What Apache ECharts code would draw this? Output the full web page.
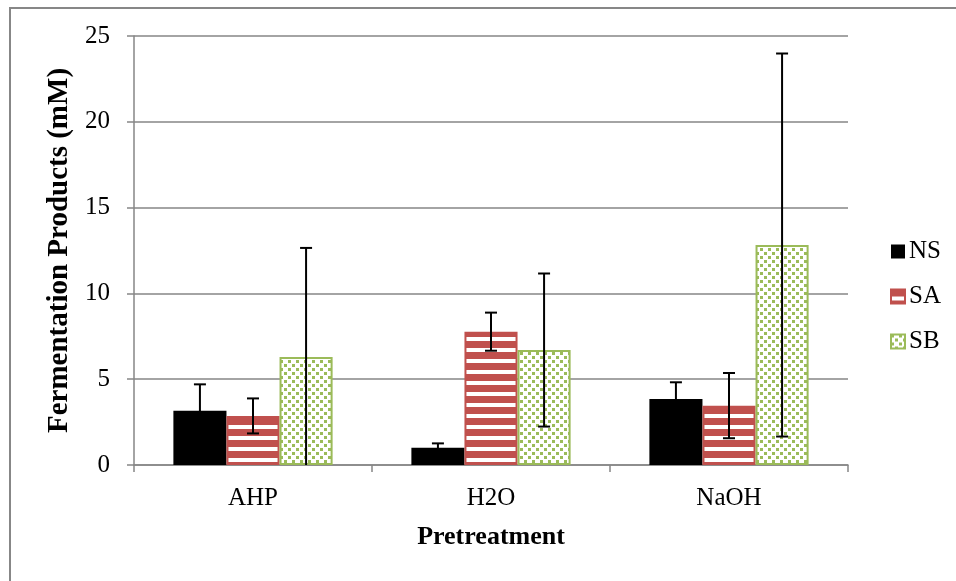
<!DOCTYPE html>
<html><head><meta charset="utf-8">
<script src="https://cdn.jsdelivr.net/npm/echarts@6/dist/echarts.min.js"></script>
<style>html,body{margin:0;padding:0;background:#fff}#c{width:956px;height:581px}</style>
</head><body><div id="c"></div>
<script>
const categories = ['AHP', 'H2O', 'NaOH'];
const seriesNames = ['NS', 'SA', 'SB'];
const nsValues = [3.16, 1.01, 3.85];
const saValues = [2.86, 7.77, 3.46];
const sbValues = [6.29, 6.70, 12.82];
const nsErrors = [1.54, 0.25, 0.97];
const saErrors = [1.02, 1.11, 1.90];
const sbErrors = [6.36, 4.46, 11.16];
const yTicks = [0, 5, 10, 15, 20, 25];

const FONT = '"Liberation Serif", "Times New Roman", serif';

function stripePattern() {
  const c = document.createElement('canvas');
  c.width = 11; c.height = 11;
  const g = c.getContext('2d');
  g.fillStyle = '#ffffff'; g.fillRect(0, 0, 11, 11);
  g.fillStyle = '#C0504D'; g.fillRect(0, 0, 11, 7);
  return c;
}
function dotPattern() {
  const c = document.createElement('canvas');
  c.width = 8; c.height = 8;
  const g = c.getContext('2d');
  g.fillStyle = '#ffffff'; g.fillRect(0, 0, 8, 8);
  g.fillStyle = '#9BBB59';
  g.fillRect(0, 0, 3, 3);
  g.fillRect(4, 4, 3, 3);
  return c;
}

const BW = 0.223;
function errSeries(vals, errs, k) {
  return {
    type: 'custom',
    name: seriesNames[k] + ' err',
    z: 5,
    data: vals.map((v, i) => [i, v, errs[i], k]),
    renderItem: function (params, api) {
      const cat = api.value(0), v = api.value(1), e = api.value(2), kk = api.value(3);
      const band = api.size([1, 0])[0];
      const x = api.coord([cat, 0])[0] + (kk - 1) * band * BW;
      const hiV = v + e;
      const loV = Math.max(0, v - e);
      const hi = api.coord([cat, hiV])[1];
      const lo = api.coord([cat, loV])[1];
      const cap = 6;
      const st = { stroke: '#000', lineWidth: 2 };
      const ch = [
        { type: 'line', shape: { x1: x, y1: hi, x2: x, y2: lo }, style: st },
        { type: 'line', shape: { x1: x - cap, y1: hi, x2: x + cap, y2: hi }, style: st }
      ];
      if (v - e > 0) ch.push({ type: 'line', shape: { x1: x - cap, y1: lo, x2: x + cap, y2: lo }, style: st });
      return { type: 'group', children: ch };
    }
  };
}

const chart = echarts.init(document.getElementById('c'), null, { renderer: 'canvas' });
chart.setOption({
  animation: false,
  backgroundColor: '#fff',
  textStyle: { fontFamily: FONT },
  grid: { left: 134, right: 108, top: 36, bottom: 116, containLabel: false },
  legend: {
    orient: 'vertical',
    left: 885, top: 234,
    itemWidth: 14, itemHeight: 14, itemGap: 20,
    icon: 'rect',
    data: seriesNames,
    textStyle: { fontFamily: FONT, fontSize: 25, color: '#000', padding: [0, 0, 0, -1] }
  },
  xAxis: {
    type: 'category',
    data: categories,
    name: 'Pretreatment',
    nameLocation: 'middle',
    nameGap: 59,
    nameTextStyle: { fontFamily: FONT, fontSize: 26, fontWeight: 'bold', color: '#000' },
    axisLine: { lineStyle: { color: '#868686', width: 1.5 } },
    axisTick: { show: true, length: 7, lineStyle: { color: '#868686', width: 1.5 } },
    axisLabel: { fontFamily: FONT, fontSize: 25, color: '#000', margin: 21 },
    splitLine: { show: false }
  },
  yAxis: {
    type: 'value',
    min: yTicks[0], max: yTicks[yTicks.length - 1], interval: yTicks[1] - yTicks[0],
    name: 'Fermentation Products (mM)',
    nameLocation: 'middle',
    nameGap: 56,
    nameTextStyle: { fontFamily: FONT, fontSize: 29, fontWeight: 'bold', color: '#000' },
    axisLine: { show: true, lineStyle: { color: '#868686', width: 1.5 } },
    axisTick: { show: true, length: 7, lineStyle: { color: '#868686', width: 1.5 } },
    axisLabel: { fontFamily: FONT, fontSize: 25, color: '#000', margin: 24 },
    splitLine: { show: true, lineStyle: { color: '#868686', width: 1.5 } }
  },
  series: [
    { type: 'bar', name: 'NS', data: nsValues, barWidth: (BW * 100) + '%', barGap: '0%',
      itemStyle: { color: '#000000' } },
    { type: 'bar', name: 'SA', data: saValues, barWidth: (BW * 100) + '%', barGap: '0%',
      itemStyle: { color: { image: stripePattern(), repeat: 'repeat' }, borderColor: '#C0504D', borderWidth: 2 } },
    { type: 'bar', name: 'SB', data: sbValues, barWidth: (BW * 100) + '%', barGap: '0%',
      itemStyle: { color: { image: dotPattern(), repeat: 'repeat' }, borderColor: '#9BBB59', borderWidth: 2 } },
    errSeries(nsValues, nsErrors, 0),
    errSeries(saValues, saErrors, 1),
    errSeries(sbValues, sbErrors, 2)
  ],
  graphic: [
    { type: 'line', shape: { x1: 9, y1: 8, x2: 956, y2: 8 }, style: { stroke: '#878787', lineWidth: 2 }, silent: true },
    { type: 'line', shape: { x1: 10, y1: 7, x2: 10, y2: 581 }, style: { stroke: '#878787', lineWidth: 2 }, silent: true }
  ]
});
</script></body></html>
